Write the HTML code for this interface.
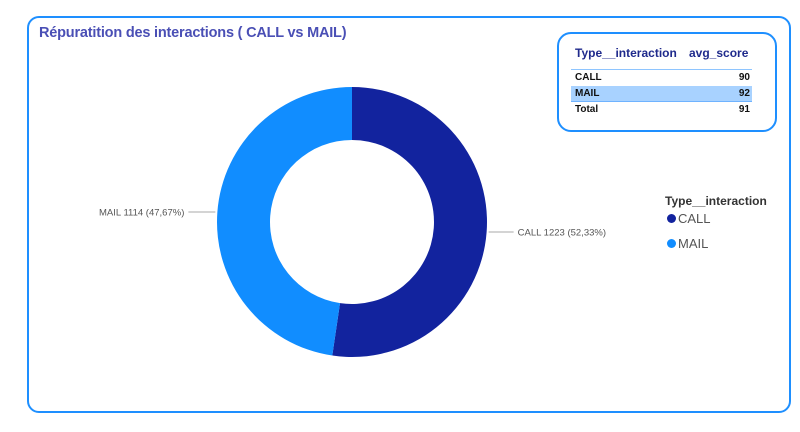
<!DOCTYPE html>
<html><head><meta charset="utf-8"><style>
body{margin:0;background:#fff;width:800px;height:432px;overflow:hidden;font-family:"Liberation Sans",sans-serif;position:relative}
.card{position:absolute;left:27px;top:16px;width:760px;height:393px;border:2px solid #1E8FFF;border-radius:12px}
.title{position:absolute;left:39px;top:25px;font-size:14.5px;font-weight:bold;color:#4A4FB5;letter-spacing:-0.2px}
.tbl{position:absolute;left:557px;top:32px;width:216px;height:96px;border:2.5px solid #1E8FFF;border-radius:14px;font-size:10px;font-weight:bold;color:#111}
.th{position:absolute;top:12px;font-size:12px;color:#1F2A8C}
.row{position:absolute;left:12px;width:181px;height:15px;line-height:15px}
.row span{position:absolute}
.legend{position:absolute;left:665px;top:194px;font-size:12px;color:#333}
.li{position:absolute;left:2px;font-size:13px;font-weight:normal;color:#555;white-space:nowrap}
.dot{display:inline-block;width:9px;height:9px;border-radius:50%;margin-right:2px;vertical-align:0}
</style></head><body>
<div class="card"></div>
<div class="title">Répuratition des interactions ( CALL vs MAIL)</div>
<div class="tbl">
  <div class="th" style="left:16px">Type__interaction</div>
  <div class="th" style="left:130px">avg_score</div>
  <div style="position:absolute;left:12px;top:35px;width:181px;border-top:1px solid #8EC5FF"></div>
  <div class="row" style="top:36px"><span style="left:4px">CALL</span><span style="right:2px">90</span></div>
  <div class="row" style="top:52px;background:#A8D2FF;border-bottom:1px solid #6FB3FF"><span style="left:4px">MAIL</span><span style="right:2px">92</span></div>
  <div class="row" style="top:68px"><span style="left:4px">Total</span><span style="right:2px">91</span></div>
</div>
<div class="legend">
  <div style="font-weight:bold">Type__interaction</div>
  <div class="li" style="top:17px"><span class="dot" style="background:#12239E"></span>CALL</div>
  <div class="li" style="top:42px"><span class="dot" style="background:#118DFF"></span>MAIL</div>
</div>
<svg id="chart" width="800" height="432" style="position:absolute;left:0;top:0"></svg>
<script>
const categories=["CALL","MAIL"];
const values=[1223,1114];
const percentLabels=["52,33%","47,67%"];
const colors=["#12239E","#118DFF"];
const svg=document.getElementById('chart');
const NS="http://www.w3.org/2000/svg";
const cx=352,cy=222,R=135,r=82;
const total=values.reduce((a,b)=>a+b,0);
let a0=-Math.PI/2;
function pt(a,rad){return [cx+rad*Math.cos(a),cy+rad*Math.sin(a)];}
values.forEach((v,i)=>{
  const a1=a0+v/total*2*Math.PI;
  const large=(a1-a0)>Math.PI?1:0;
  const [x0,y0]=pt(a0,R),[x1,y1]=pt(a1,R),[x2,y2]=pt(a1,r),[x3,y3]=pt(a0,r);
  const p=document.createElementNS(NS,'path');
  p.setAttribute('d',`M${x0},${y0}A${R},${R} 0 ${large} 1 ${x1},${y1}L${x2},${y2}A${r},${r} 0 ${large} 0 ${x3},${y3}Z`);
  p.setAttribute('fill',colors[i]);
  
  
  svg.appendChild(p);
  const mid=(a0+a1)/2;
  const [lx,ly]=pt(mid,R+2);
  const right=Math.cos(mid)>=0;
  const ex=lx+(right?25:-27);
  const ln=document.createElementNS(NS,'line');
  ln.setAttribute('x1',lx);ln.setAttribute('y1',ly);ln.setAttribute('x2',ex);ln.setAttribute('y2',ly);
  ln.setAttribute('stroke','#aaa');ln.setAttribute('stroke-width','1');
  
  
  svg.appendChild(ln);
  const t=document.createElementNS(NS,'text');
  t.setAttribute('x',ex+(right?4:-4));t.setAttribute('y',ly+3.5);
  t.setAttribute('text-anchor',right?'start':'end');
  t.setAttribute('font-size','9.5');t.setAttribute('fill','#555');
  t.setAttribute('font-family','Liberation Sans, sans-serif');
  t.textContent=`${categories[i]} ${values[i]} (${percentLabels[i]})`;
  
  
  svg.appendChild(t);
  a0=a1;
});
</script>
</body></html>
